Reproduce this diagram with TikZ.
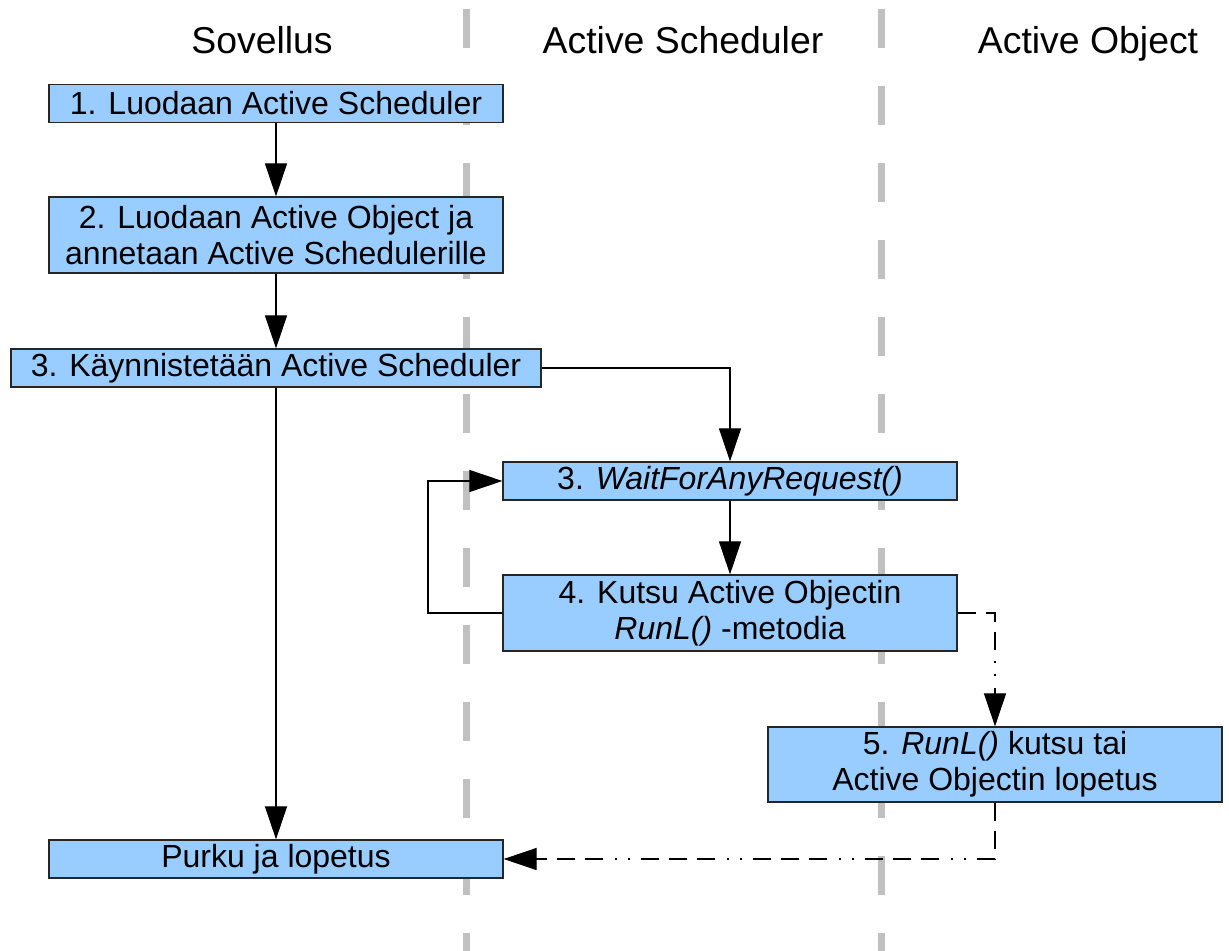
\documentclass[tikz,border=0pt]{standalone}
\usepackage{fontspec}
\setmainfont{Liberation Sans}
\usetikzlibrary{arrows.meta}
\definecolor{boxfill}{HTML}{99CCFF}
\definecolor{lanegray}{HTML}{C0C0C0}
\begin{document}
\begin{tikzpicture}[x=0.5pt,y=-0.5pt,
  lane/.style={draw=lanegray,line width=3.5pt,dash pattern=on 19.5pt off 19pt},
  heading/.style={font=\fontsize{18.7pt}{22pt}\selectfont,inner sep=0pt,anchor=base},
  stepbox/.style={draw=black!85,line width=0.6pt,fill=boxfill,inner sep=0pt,
    minimum width=227pt,minimum height=19pt,align=center,
    font=\fontsize{16pt}{18pt}\selectfont},
  conn/.style={draw=black,line width=0.55pt,-{Triangle[length=16.5pt,width=11pt]}},
  ret/.style={conn,dash pattern=on 9pt off 5pt on 9pt off 5pt on 9pt off 5.5pt on 1pt off 5.5pt on 1pt off 6pt}]
  \useasboundingbox (0,0) rectangle (1229,951);

  % swimlane separators
  \draw[lane] (466,9) -- (466,951);
  \draw[lane] (881,9) -- (881,951);

  % lane headings
  \node[heading] (h1) at (262,54) {Sovellus};
  \node[heading] (h2) at (683,54) {Active Scheduler};
  \node[heading] (h3) at (1088,54) {Active Object};

  % steps
  \node[stepbox] (b1) at (276,103.5) {1. Luodaan Active Scheduler};
  \node[stepbox,minimum height=38pt] (b2) at (276,235) {2. Luodaan Active Object ja\\annetaan Active Schedulerille};
  \node[stepbox,minimum width=265pt] (b3) at (276,368) {3. Käynnistetään Active Scheduler};
  \node[stepbox] (b4) at (730,481) {3. \textit{WaitForAnyRequest()}};
  \node[stepbox,minimum height=38pt] (b5) at (730,613) {4. Kutsu Active Objectin\\\textit{RunL()} -metodia};
  \node[stepbox,minimum height=37.5pt] (b6) at (995,764.5) {5. \textit{RunL()} kutsu tai\\Active Objectin lopetus};
  \node[stepbox] (b7) at (276,859) {Purku ja lopetus};

  \coordinate (loop) at (428,613);

  % connectors
  \draw[conn] (b1.south) -- (b2.north);
  \draw[conn] (b2.south) -- (b3.north);
  \draw[conn] (b3.east) -| (b4.north);
  \draw[conn] (b4.south) -- (b5.north);
  \draw[conn] (b5.west) -- (loop) |- (b4.west);
  \draw[conn] (b3.south) -- (b7.north);
  \draw[ret] (b5.east) -| (b6.north);
  \draw[ret] (b6.south) |- (b7.east);
\end{tikzpicture}
\end{document}
